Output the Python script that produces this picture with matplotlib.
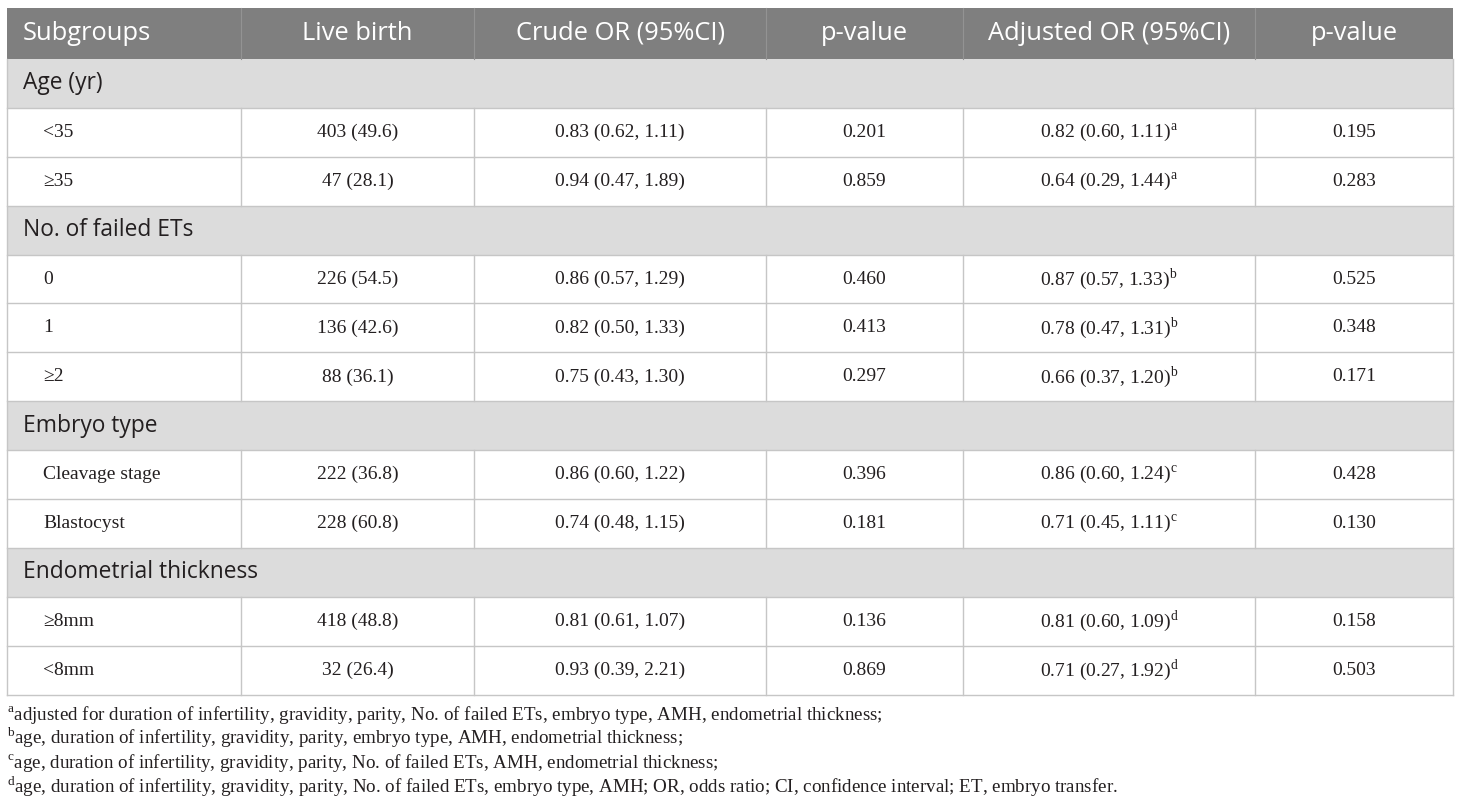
import matplotlib
matplotlib.use("Agg")
import matplotlib.pyplot as plt
from matplotlib.patches import Rectangle

plt.rcParams["mathtext.fontset"] = "custom"
plt.rcParams["mathtext.rm"] = "Liberation Serif"

# ---- table content ----
headers = ["Subgroups", "Live birth", "Crude OR (95%CI)", "p-value",
           "Adjusted OR (95%CI)", "p-value"]

sections = ["Age (yr)", "No. of failed ETs", "Embryo type", "Endometrial thickness"]

subgroups = [
    ["<35", "≥35"],
    ["0", "1", "≥2"],
    ["Cleavage stage", "Blastocyst"],
    ["≥8mm", "<8mm"],
]
live_birth = [
    ["403 (49.6)", "47 (28.1)"],
    ["226 (54.5)", "136 (42.6)", "88 (36.1)"],
    ["222 (36.8)", "228 (60.8)"],
    ["418 (48.8)", "32 (26.4)"],
]
crude_or = [
    ["0.83 (0.62, 1.11)", "0.94 (0.47, 1.89)"],
    ["0.86 (0.57, 1.29)", "0.82 (0.50, 1.33)", "0.75 (0.43, 1.30)"],
    ["0.86 (0.60, 1.22)", "0.74 (0.48, 1.15)"],
    ["0.81 (0.61, 1.07)", "0.93 (0.39, 2.21)"],
]
crude_p = [
    ["0.201", "0.859"],
    ["0.460", "0.413", "0.297"],
    ["0.396", "0.181"],
    ["0.136", "0.869"],
]
adj_or = [
    ["0.82 (0.60, 1.11)", "0.64 (0.29, 1.44)"],
    ["0.87 (0.57, 1.33)", "0.78 (0.47, 1.31)", "0.66 (0.37, 1.20)"],
    ["0.86 (0.60, 1.24)", "0.71 (0.45, 1.11)"],
    ["0.81 (0.60, 1.09)", "0.71 (0.27, 1.92)"],
]
adj_mark = ["a", "b", "c", "d"]
adj_p = [
    ["0.195", "0.283"],
    ["0.525", "0.348", "0.171"],
    ["0.428", "0.130"],
    ["0.158", "0.503"],
]

footnotes = [
    ("a", "adjusted for duration of infertility, gravidity, parity, No. of failed ETs, embryo type, AMH, endometrial thickness;"),
    ("b", "age, duration of infertility, gravidity, parity, embryo type, AMH, endometrial thickness;"),
    ("c", "age, duration of infertility, gravidity, parity, No. of failed ETs, AMH, endometrial thickness;"),
    ("d", "age, duration of infertility, gravidity, parity, No. of failed ETs, embryo type, AMH; OR, odds ratio; CI, confidence interval; ET, embryo transfer."),
]

# ---- layout (pixels) ----
col_x = [7, 241, 474, 766, 963, 1255, 1453]
top = 8
header_h = 51
row_h = 48.9
HEAD_BG = "#7f7f7f"
SEC_BG = "#dcdcdc"
GRID = "#c6c6c6"
TXT = "#231f20"
SANS = "Open Sans"
SERIF = "Liberation Serif"

fig = plt.figure(figsize=(14.6, 8.05), dpi=100)
ax = fig.add_axes([0, 0, 1, 1])
ax.set_xlim(0, 1460)
ax.set_ylim(805, 0)
ax.axis("off")

left, right = col_x[0], col_x[-1]

# header
ax.add_patch(Rectangle((left, top), right - left, header_h, color=HEAD_BG, lw=0))
for i, h in enumerate(headers):
    yc = top + header_h / 2
    if i == 0:
        ax.text(left + 16, yc, h, ha="left", va="center", color="white",
                fontsize=18.4, family=SANS)
    else:
        ax.text((col_x[i] + col_x[i + 1]) / 2, yc, h, ha="center", va="center",
                color="white", fontsize=18.4, family=SANS)
for x in col_x[1:-1]:
    ax.plot([x, x], [top, top + header_h], color="#939393", lw=0.8)

y = top + header_h
for s, name in enumerate(sections):
    # section row
    ax.add_patch(Rectangle((left, y), right - left, row_h, color=SEC_BG, lw=0))
    ax.text(left + 16, y + row_h / 2, name, ha="left", va="center", color=TXT,
            fontsize=16.4, family=SANS)
    ax.plot([left, right], [y + row_h, y + row_h], color=GRID, lw=1)
    y += row_h
    for r in range(len(subgroups[s])):
        yc = y + row_h / 2
        ax.text(left + 36, yc, subgroups[s][r], ha="left", va="center",
                color=TXT, fontsize=14, family=SERIF)
        cells = [live_birth[s][r], crude_or[s][r], crude_p[s][r],
                 adj_or[s][r] + r"$^{\mathrm{" + adj_mark[s] + "}}$",
                 adj_p[s][r]]
        for c, val in enumerate(cells):
            ax.text((col_x[c + 1] + col_x[c + 2]) / 2, yc, val, ha="center",
                    va="center", color=TXT, fontsize=14, family=SERIF)
        for x in col_x[1:-1]:
            ax.plot([x, x], [y, y + row_h], color=GRID, lw=1)
        ax.plot([left, right], [y + row_h, y + row_h], color=GRID, lw=1)
        y += row_h

table_bottom = y
ax.plot([left, left], [top + header_h, table_bottom], color=GRID, lw=1)
ax.plot([right, right], [top + header_h, table_bottom], color=GRID, lw=1)

# footnotes
fy = table_bottom + 25
for mark, note in footnotes:
    ax.text(left, fy, r"$^{\mathrm{" + mark + "}}$" + note, ha="left",
            va="baseline", color=TXT, fontsize=13.7, family=SERIF)
    fy += 24.3

fig.savefig("out.png", dpi=100)
